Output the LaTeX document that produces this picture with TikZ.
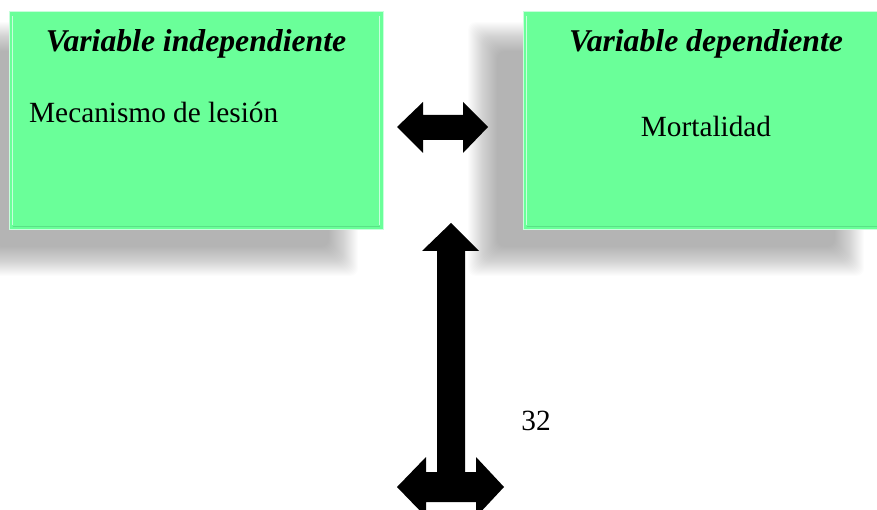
\documentclass[tikz,border=0pt]{standalone}
\usepackage{fontspec}
\setmainfont{Liberation Serif}
\definecolor{boxgreen}{RGB}{106,255,153}
\definecolor{bevellight}{RGB}{200,255,220}
\definecolor{beveldark}{RGB}{90,225,135}
\tikzset{
  varbox/.style={draw=bevellight, line width=1pt, fill=boxgreen, minimum height=218pt, inner sep=0pt},
  shadowlayer/.style={fill=black, fill opacity=0.011, draw=none, rounded corners=8pt},
  titletext/.style={font=\fontsize{31.7}{36}\selectfont\bfseries\itshape, anchor=base, inner sep=0pt},
  bodytext/.style={font=\fontsize{29.3}{34}\selectfont, inner sep=0pt},
  bigarrow/.style={fill=black, draw=none}
}
\begin{document}
\begin{tikzpicture}[x=1pt,y=-1pt]
\useasboundingbox (0,0) rectangle (877,510);
% soft shadows
\foreach \i in {0,...,29}{
  \fill[shadowlayer] (-35+\i,22+\i) rectangle (358-\i,276-\i);
  \fill[shadowlayer] (468+\i,22+\i) rectangle (864-\i,276-\i);
}
% boxes
\node[varbox, minimum width=374pt] (indep) at (196,121) {};
\node[varbox, minimum width=354pt] (dep) at (700,121) {};
% bevel highlights
\draw[bevellight, line width=1.2pt] ([shift={(4pt,-5pt)}]indep.north west) -- ([shift={(4pt,5pt)}]indep.south west);
\draw[bevellight, line width=1.2pt] ([shift={(-4pt,-5pt)}]indep.north east) -- ([shift={(-4pt,5pt)}]indep.south east);
\draw[bevellight, line width=1.2pt] ([shift={(4pt,-5pt)}]dep.north west) -- ([shift={(4pt,5pt)}]dep.south west);
\draw[beveldark, line width=0.6pt] ([shift={(4pt,4pt)}]indep.south west) -- ([shift={(-4pt,4pt)}]indep.south east);
\draw[beveldark, line width=0.6pt] ([shift={(4pt,4pt)}]dep.south west) -- ([shift={(0pt,4pt)}]dep.south east);
% texts
\node[titletext] (t1) at (196,52) {Variable independiente};
\node[titletext] (t2) at (706,52) {Variable dependiente};
\node[bodytext, anchor=base west] (b1) at (29,123) {Mecanismo de lesión};
\node[bodytext, anchor=base] (b2) at (706,137) {Mortalidad};
\node[bodytext, anchor=base] (num) at (536,430) {32};
% horizontal double arrow
\fill[bigarrow] (397,127) -- (423,102) -- (423,115) -- (463,115) -- (463,102) -- (488,127)
  -- (463,153) -- (463,140) -- (423,140) -- (423,153) -- cycle;
% vertical arrow with left-right arrow at bottom
\fill[bigarrow] (451,223) -- (479,251) -- (465,251) -- (465,472) -- (476,472) -- (476,457) -- (504,487)
  -- (476,517) -- (476,502) -- (426,502) -- (426,517) -- (397,487) -- (426,457) -- (426,472)
  -- (437,472) -- (437,251) -- (422,251) -- cycle;
\end{tikzpicture}
\end{document}
